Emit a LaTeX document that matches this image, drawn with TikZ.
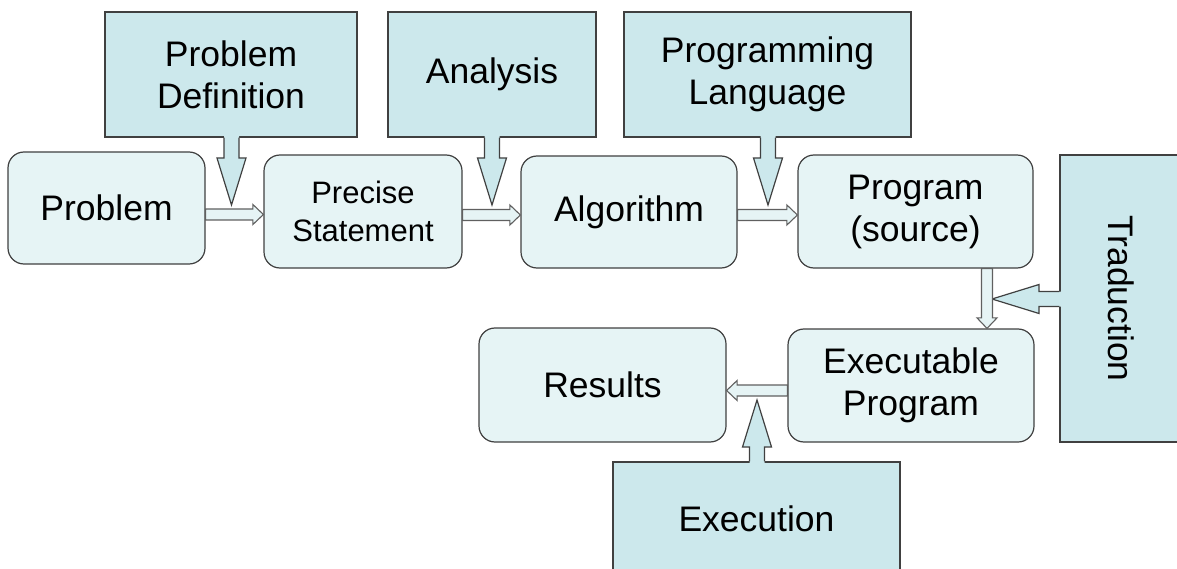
\documentclass[tikz,border=0pt]{standalone}
\usepackage{fontspec}
\setmainfont{Liberation Sans}
\usetikzlibrary{calc}

\definecolor{boxfill}{RGB}{230,244,245}
\definecolor{callfill}{RGB}{204,232,236}
\definecolor{edgegray}{RGB}{64,64,64}
\definecolor{arrowedge}{RGB}{96,96,96}

\newcommand\bigtext{\fontsize{35.5}{42}\selectfont}
\newcommand\midtext{\fontsize{31}{38}\selectfont}

\tikzset{
  stepbox/.style={draw=edgegray, line width=1.2pt, fill=boxfill, rounded corners=16pt,
    align=center, inner sep=0pt, font=\bigtext},
  notebox/.style={draw=edgegray, line width=1.2pt, fill=callfill, align=center,
    inner sep=0pt, font=\bigtext},
  notetip/.style={fill=callfill},
  notetipedge/.style={draw=edgegray, line width=1.2pt, line join=miter},
  flow/.style={draw=arrowedge, line width=1.1pt, fill=boxfill, line join=miter},
}

% pointer of a note box: #1 base point on the box edge, #2 tip
\newcommand\notepointer[2]{%
  \fill[notetip] let \p1=($(#1)!-2pt!(#2)$), \p2=(#2), \p3=($(\p2)!47pt!(\p1)$) in
    ($(\p1)!7.5pt!90:(\p2)$) -- ($(\p3)!7.5pt!90:(\p2)$) -- ($(\p3)!14.5pt!90:(\p2)$) -- (\p2)
    -- ($(\p3)!14.5pt!-90:(\p2)$) -- ($(\p3)!7.5pt!-90:(\p2)$) -- ($(\p1)!7.5pt!-90:(\p2)$) -- cycle;
  \draw[notetipedge] let \p1=(#1), \p2=(#2), \p3=($(\p2)!47pt!(\p1)$) in
    ($(\p1)!7.5pt!90:(\p2)$) -- ($(\p3)!7.5pt!90:(\p2)$) -- ($(\p3)!14.5pt!90:(\p2)$) -- (\p2)
    -- ($(\p3)!14.5pt!-90:(\p2)$) -- ($(\p3)!7.5pt!-90:(\p2)$) -- ($(\p1)!7.5pt!-90:(\p2)$);
}

% hollow block arrow between two steps
\newcommand\flowarrow[2]{%
  \draw[flow] let \p1=(#1), \p2=(#2), \p3=($(\p2)!10.5pt!(\p1)$) in
    ($(\p1)!5.5pt!90:(\p2)$) -- ($(\p3)!5.5pt!90:(\p2)$) -- ($(\p3)!10pt!90:(\p2)$) -- (\p2)
    -- ($(\p3)!10pt!-90:(\p2)$) -- ($(\p3)!5.5pt!-90:(\p2)$) -- ($(\p1)!5.5pt!-90:(\p2)$) -- cycle;
}

\begin{document}
\begin{tikzpicture}[x=1pt, y=-1pt]
\useasboundingbox (0,0) rectangle (1177,569);
\clip (0,0) rectangle (1177,569);

% note boxes
\node[notebox, minimum width=252pt, minimum height=125pt] (pdef) at (231,74.5) {Problem\\Definition};
\node[notebox, minimum width=208pt, minimum height=125pt] (anal) at (492,74.5) {Analysis};
\node[notebox, minimum width=287pt, minimum height=125pt] (plang) at (767.5,74.5) {Programming\\Language};
\node[notebox, minimum width=122pt, minimum height=287pt] (trad) at (1121,298.5) {};
\node[rotate=-90, font=\bigtext, inner sep=0pt] (tradlabel) at (trad.center) {Traduction};
\node[notebox, minimum width=287pt, minimum height=114pt] (exec) at (756.5,519) {Execution};

% pointer tips
\coordinate (pdtip) at (231.5,205);
\coordinate (antip) at (492,205);
\coordinate (pltip) at (768,205);
\coordinate (trtip) at (992,299);
\coordinate (extip) at (757,400);

\notepointer{pdtip |- pdef.south}{pdtip}
\notepointer{antip |- anal.south}{antip}
\notepointer{pltip |- plang.south}{pltip}
\notepointer{trad.west |- trtip}{trtip}
\notepointer{extip |- exec.north}{extip}

% steps
\node[stepbox, minimum width=197pt, minimum height=112pt] (prob) at (106.5,208) {Problem};
\node[stepbox, minimum width=198pt, minimum height=113pt, font=\midtext] (prec) at (363,211.5) {Precise\\Statement};
\node[stepbox, minimum width=216pt, minimum height=112pt] (algo) at (629,212) {Algorithm};
\node[stepbox, minimum width=235pt, minimum height=113pt] (prog) at (915.5,211.5) {Program\\(source)};
\node[stepbox, minimum width=246pt, minimum height=113pt] (exe) at (911,385.5) {Executable\\Program};
\node[stepbox, minimum width=247pt, minimum height=114pt] (res) at (602.5,385) {Results};

% connector rows and column
\coordinate (row1) at (0,214.5);
\coordinate (row2) at (0,215);
\coordinate (row3) at (0,390.5);
\coordinate (col1) at (987,0);

\flowarrow{prob.east |- row1}{prec.west |- row1}
\flowarrow{prec.east |- row2}{algo.west |- row2}
\flowarrow{algo.east |- row2}{prog.west |- row2}
\flowarrow{prog.south -| col1}{exe.north -| col1}
\flowarrow{exe.west |- row3}{res.east |- row3}
\end{tikzpicture}
\end{document}
